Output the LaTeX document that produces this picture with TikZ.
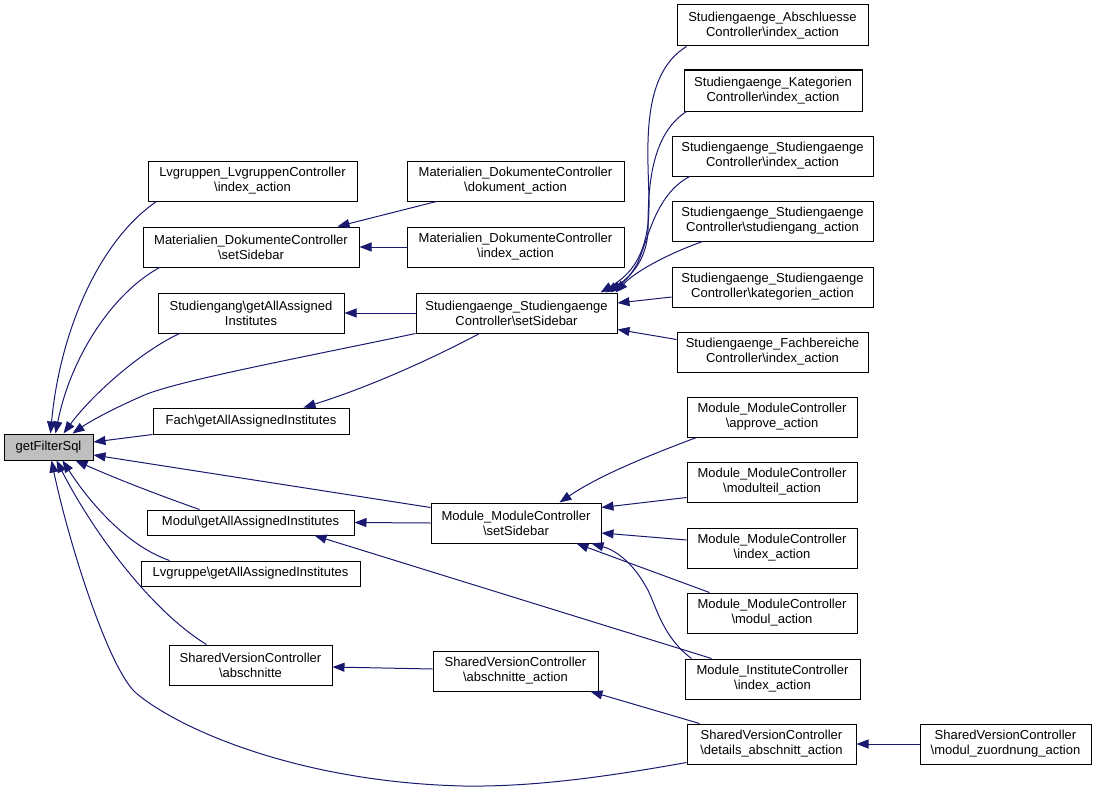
\documentclass[tikz,border=0pt]{standalone}
\usepackage{fontspec}
\setmainfont{Liberation Sans}
\usetikzlibrary{arrows.meta,calc}
\definecolor{edgeblue}{HTML}{191970}
\definecolor{rootgray}{HTML}{BFBFBF}
\newcommand\mybox[6]{\node[box,minimum width={(#4-#2)*1pt},minimum height={(#5-#3)*1pt}] (#1) at ({(#2+#4)/2},{(#3+#5)/2}) {#6};}
\begin{document}
\begin{tikzpicture}[x=1pt,y=-1pt,
  box/.style={draw=black,line width=1pt,fill=white,inner sep=0pt,align=center,
    font=\fontsize{13}{15}\selectfont},
  edge/.style={draw=edgeblue,line width=1pt,-{Triangle[length=12pt,width=9pt]}}]
\useasboundingbox (0,0) rectangle (1097,792);
% column 1
\node[box,fill=rootgray,minimum width=89pt,minimum height=26pt] (gfs) at (48.5,447) {getFilterSql};
% column 2
\mybox{lvgidx}{148}{161}{357}{201}{Lvgruppen\_LvgruppenController\\\textbackslash index\_action}
\mybox{matsb}{143}{227}{359}{267}{Materialien\_DokumenteController\\\textbackslash setSidebar}
\mybox{sgai}{158}{293}{344}{333}{Studiengang\textbackslash getAllAssigned\\Institutes}
\mybox{fach}{153}{408}{349}{434}{Fach\textbackslash getAllAssignedInstitutes}
\mybox{modul}{147}{510}{354}{535}{Modul\textbackslash getAllAssignedInstitutes}
\mybox{lvgr}{141}{561}{360}{586}{Lvgruppe\textbackslash getAllAssignedInstitutes}
\mybox{sva}{169}{645}{332}{685}{SharedVersionController\\\textbackslash abschnitte}
% column 3
\mybox{matdok}{407}{161}{624}{201}{Materialien\_DokumenteController\\\textbackslash dokument\_action}
\mybox{matidx}{407}{227}{624}{267}{Materialien\_DokumenteController\\\textbackslash index\_action}
\mybox{stsb}{416}{293}{617}{333}{Studiengaenge\_Studiengaenge\\Controller\textbackslash setSidebar}
\mybox{mmsb}{431}{503}{601}{543}{Module\_ModuleController\\\textbackslash setSidebar}
\mybox{svaa}{433}{651}{598}{691}{SharedVersionController\\\textbackslash abschnitte\_action}
% column 4
\mybox{abs}{677}{5}{868}{46}{Studiengaenge\_Abschluesse\\Controller\textbackslash index\_action}
\mybox{kat}{684}{70}{862}{111}{Studiengaenge\_Kategorien\\Controller\textbackslash index\_action}
\mybox{stidx}{672}{136}{873}{176}{Studiengaenge\_Studiengaenge\\Controller\textbackslash index\_action}
\mybox{stsg}{672}{201}{873}{241}{Studiengaenge\_Studiengaenge\\Controller\textbackslash studiengang\_action}
\mybox{stkat}{672}{267}{873}{307}{Studiengaenge\_Studiengaenge\\Controller\textbackslash kategorien\_action}
\mybox{fb}{677}{332}{868}{372}{Studiengaenge\_Fachbereiche\\Controller\textbackslash index\_action}
\mybox{mapp}{687}{397}{857}{437}{Module\_ModuleController\\\textbackslash approve\_action}
\mybox{mmt}{687}{462}{857}{502}{Module\_ModuleController\\\textbackslash modulteil\_action}
\mybox{midx}{687}{528}{857}{568}{Module\_ModuleController\\\textbackslash index\_action}
\mybox{mmod}{687}{593}{857}{633}{Module\_ModuleController\\\textbackslash modul\_action}
\mybox{mic}{685}{659}{860}{699}{Module\_InstituteController\\\textbackslash index\_action}
\mybox{svd}{687}{724}{856}{764}{SharedVersionController\\\textbackslash details\_abschnitt\_action}
% column 5
\mybox{svz}{920}{724}{1091}{764}{SharedVersionController\\\textbackslash modul\_zuordnung\_action}

% edges into getFilterSql
\draw[edge] ($(lvgidx.south west)+(9,0)$) .. controls (100,240) and (60,330) .. ($(gfs.north west)+(47,0)$);
\draw[edge] ($(matsb.south west)+(17,0)$) .. controls (110,295) and (70,360) .. ($(gfs.north west)+(52,0)$);
\draw[edge] ($(sgai.south west)+(22,0)$) .. controls (140,352) and (92,395) .. ($(gfs.north west)+(60,0)$);
\draw[edge] (stsb.south west) .. controls (300,358) and (170,382) .. (140,397) .. controls (115,408) and (92,420) .. ($(gfs.north west)+(69,0)$);
\draw[edge] (fach.south west) -- ($(gfs.east)+(0,-5)$);
\draw[edge] ($(mmsb.north west)+(0,5)$) -- ($(gfs.east)+(0,8)$);
\draw[edge] ($(modul.north west)+(53,0)$) .. controls (150,492) and (110,476) .. ($(gfs.south west)+(72,0)$);
\draw[edge] ($(lvgr.north west)+(29,0)$) .. controls (125,545) and (88,500) .. ($(gfs.south west)+(59,0)$);
\draw[edge] ($(sva.north west)+(38,0)$) .. controls (150,610) and (92,530) .. ($(gfs.south west)+(53,0)$);
\draw[edge] ($(svd.south west)+(0,-2)$) .. controls (600,778) and (530,787) .. (463,786) .. controls (300,782) and (180,730) .. (136,693) .. controls (108,668) and (68,540) .. ($(gfs.south west)+(48,0)$);

% edges into column 2
\draw[edge] ($(matdok.south west)+(30,0)$) -- ($(matsb.north east)+(-22,0)$);
\draw[edge] (matidx.west) -- (matsb.east);
\draw[edge] (stsb.west) -- (sgai.east);
\draw[edge] ($(stsb.south west)+(64,0)$) .. controls (420,365) and (360,390) .. ($(fach.north east)+(-46,0)$);
\draw[edge] (mmsb.west) -- (modul.east);
\draw[edge] ($(mic.north west)+(27,0)$) -- ($(modul.south west)+(168,0)$);
\draw[edge] ($(svaa.west)+(0,-2)$) -- ($(sva.east)+(0,2)$);

% edges into Studiengaenge setSidebar
\draw[edge] ($(abs.south west)+(10,0)$) .. controls (640,75) and (648,150) .. (649,200) .. controls (650,255) and (630,275) .. ($(stsb.north east)+(-17,0)$);
\draw[edge] ($(kat.south west)+(3,0)$) .. controls (650,135) and (648,190) .. (648,230) .. controls (647,260) and (630,278) .. ($(stsb.north east)+(-12,0)$);
\draw[edge] ($(stidx.south west)+(18,0)$) .. controls (655,195) and (648,240) .. (638,262) .. controls (630,278) and (620,285) .. ($(stsb.north east)+(-7,0)$);
\draw[edge] ($(stsg.south west)+(31,0)$) .. controls (665,255) and (635,272) .. ($(stsb.north east)+(-2,0)$);
\draw[edge] ($(stkat.west)+(0,10)$) -- ($(stsb.east)+(0,-10)$);
\draw[edge] ($(fb.north west)+(0,8)$) -- ($(stsb.south east)+(0,-4)$);

% edges into Module setSidebar
\draw[edge] ($(mapp.south west)+(10,0)$) .. controls (650,455) and (600,475) .. ($(mmsb.north west)+(129,0)$);
\draw[edge] ($(mmt.south west)+(0,-5)$) -- ($(mmsb.north east)+(0,5)$);
\draw[edge] ($(midx.west)+(0,-8)$) -- ($(mmsb.east)+(0,10)$);
\draw[edge] ($(mmod.north west)+(23,0)$) -- ($(mmsb.south west)+(146,0)$);
\draw[edge] ($(mic.north west)+(7,0)$) .. controls (660,635) and (655,600) .. (645,585) .. controls (632,562) and (615,550) .. ($(mmsb.south west)+(161,0)$);

% shared version edges
\draw[edge] ($(svd.north west)+(13,0)$) -- ($(svaa.south east)+(-8,0)$);
\draw[edge] (svz.west) -- (svd.east);
\end{tikzpicture}
\end{document}
